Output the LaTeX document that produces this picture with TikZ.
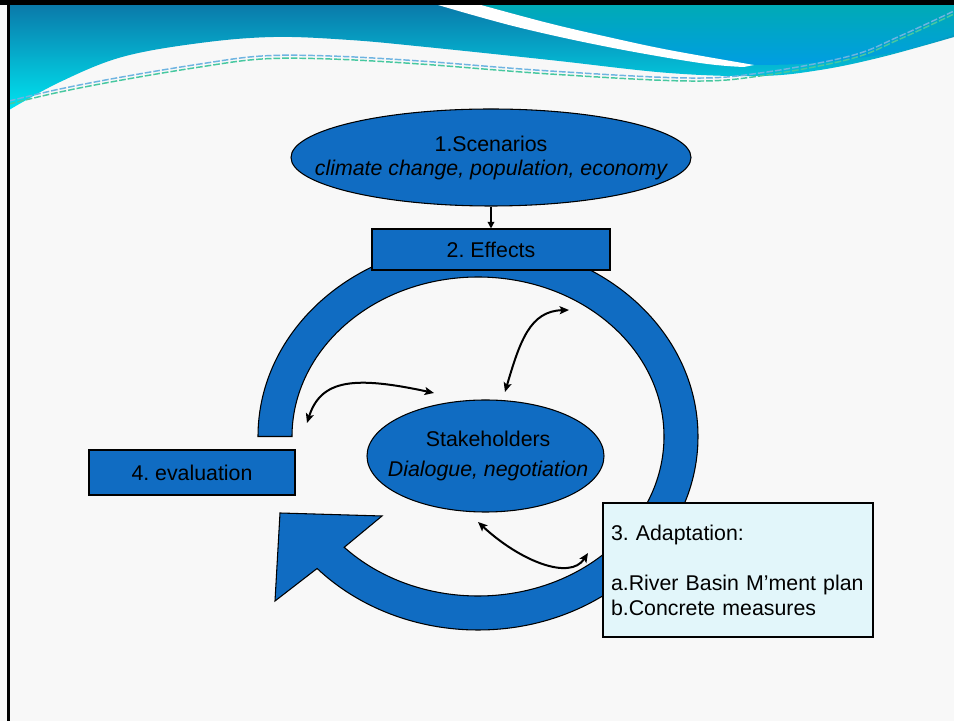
\documentclass[tikz,border=0pt]{standalone}
\usepackage{fontspec}
\setmainfont{Liberation Sans}
\usetikzlibrary{arrows.meta,shapes.geometric}
\frenchspacing

\definecolor{slidebg}{RGB}{248,248,248}
\definecolor{boxblue}{RGB}{16,108,194}
\definecolor{paleblue}{RGB}{226,246,250}
\definecolor{bandtop}{RGB}{10,122,170}
\definecolor{bandbottom}{RGB}{0,228,240}
\definecolor{wingtop}{RGB}{0,170,182}
\definecolor{wingbottom}{RGB}{0,158,226}
\definecolor{dashA}{RGB}{110,180,225}
\definecolor{dashB}{RGB}{70,200,160}

\begin{document}
\begin{tikzpicture}[x=0.75pt,y=0.75pt,
  shapeframe/.style={draw=black, line width=0.8pt, fill=boxblue, inner sep=0pt,
    font=\fontsize{16}{18}\selectfont},
  ovalbox/.style={shapeframe, ellipse},
  rectbox/.style={shapeframe, rectangle},
  ovaltext/.style={inner sep=0pt, align=center, font=\fontsize{16}{18}\selectfont},
  notebox/.style={draw=black, line width=0.8pt, fill=paleblue, rectangle,
    inner xsep=6pt, inner ysep=0pt, align=left,
    font=\fontsize{16}{18.75}\selectfont},
  feedback/.style={line width=1.5pt,
    {Stealth[length=7pt,width=6pt,inset=1.5pt]}-{Stealth[length=7pt,width=6pt,inset=1.5pt]}},
  flow/.style={line width=1.1pt, -{Triangle[length=5pt,width=5pt]}},
  dashline/.style={line width=1.1pt, dash pattern=on 5pt off 1.5pt}
]
% slide background
\fill[slidebg] (0,0) rectangle (954,721);
\useasboundingbox (0,0) rectangle (954,721);

% header band with wave
\shade[top color=bandtop, bottom color=bandbottom]
  (9,716) -- (954,716) -- (954,684)
  -- plot[smooth, tension=0.6] coordinates {(954,684) (882,664) (820,651) (760,645)
    (669,648) (550,661) (426,674) (350,681) (274,684) (200,678) (122,664) (60,639) (9,611)}
  -- cycle;
\shade[top color=wingtop, bottom color=wingbottom]
  plot[smooth, tension=0.6] coordinates {(481,716) (548,698) (608,684) (669,671) (754,656)}
  -- plot[smooth, tension=0.6] coordinates {(754,656) (800,657) (850,662) (900,670) (954,686)}
  -- (954,716) -- cycle;
\fill[white]
  plot[smooth, tension=0.6] coordinates {(438,716) (517,694) (608,674) (700,658) (744,654)}
  -- plot[smooth, tension=0.6] coordinates {(754,656) (669,671) (608,684) (548,698) (481,716)}
  -- cycle;
\draw[dashline, dashA]
  plot[smooth, tension=0.6] coordinates {(9,620) (60,632) (122,644) (200,657) (262,665)
    (330,665) (420,660) (550,650) (688,643) (760,648) (850,665) (900,685) (954,710)};
\draw[dashline, dashB]
  plot[smooth, tension=0.6] coordinates {(9,617) (60,629) (122,641) (200,654) (262,662)
    (330,662) (420,657) (550,647) (688,640) (760,645) (850,662) (900,682) (954,707)};

% slide frame
\fill[black] (0,716) rectangle (954,721);
\fill[black] (7,0) rectangle (9.5,721);

% circular cycle arrow
\filldraw[fill=boxblue, draw=black, line width=0.8pt]
  (258,284.5) arc[start angle=180, end angle=-137, x radius=220, y radius=193.5]
  -- (275,120) -- (280,208) -- (382,205)
  -- (344.2,173.7) arc[start angle=-136, end angle=180, x radius=186, y radius=159.5]
  -- cycle;

% steps
\node[ovalbox, minimum width=300pt, minimum height=72.75pt] (scen) at (491,563.5) {};
\node[ovaltext] (scentext) at (scen.center)
  {1.Scenarios\\\itshape climate change, population, economy};
\node[rectbox, minimum width=178.5pt, minimum height=30.75pt] (eff) at (491,471.5)
  {2. Effects};
\node[rectbox, minimum width=154.5pt, minimum height=33.75pt] (eval) at (192,248.5)
  {4. evaluation};
\node[ovalbox, minimum width=177.75pt, minimum height=84pt] (stake) at (485.5,265) {};
\node[ovaltext] (staketext) at ([xshift=2pt]stake.center)
  {Stakeholders\\[4.5pt]\itshape Dialogue, negotiation};
\node[notebox, minimum width=202.5pt, minimum height=100.5pt, text width=190.5pt]
  (adapt) at (738,151)
  {3. Adaptation:\\[18.75pt]a.River Basin M’ment plan\\b.Concrete measures};

\draw[flow] (scen.south) -- (eff.north);

% exchanges around the stakeholders
\coordinate (evalside) at (307,298);
\coordinate (stakeL) at (434,328);
\coordinate (stakeT) at (505,329);
\coordinate (effside) at (569,411);
\coordinate (stakeB) at (478,199);
\coordinate (adaptside) at (588,168);

\draw[feedback] (evalside) .. controls (321,342) and (355,345) .. (stakeL);
\draw[feedback] (stakeT) .. controls (520,380) and (530,410) .. (effside);
\draw[feedback] (stakeB) .. controls (520,160) and (570,140) .. (adaptside);
\end{tikzpicture}
\end{document}
